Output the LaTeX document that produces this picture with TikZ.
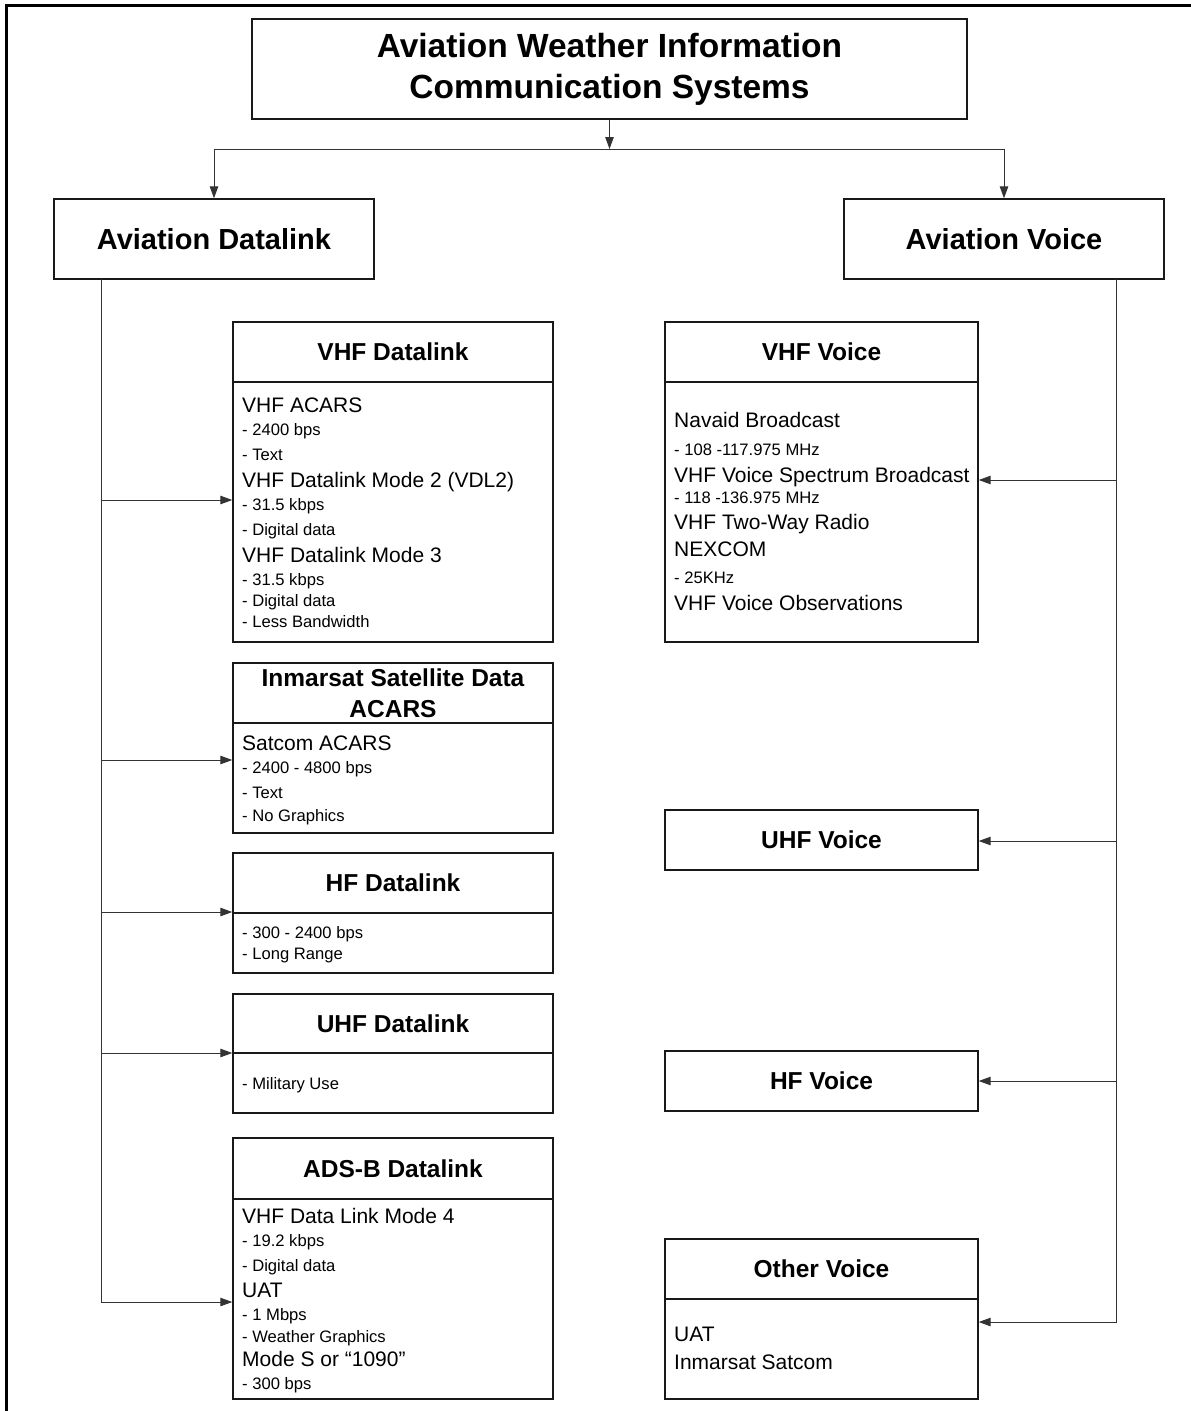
\documentclass[tikz,border=0pt]{standalone}
\usepackage{fontspec}
\setmainfont{Liberation Sans}
\usetikzlibrary{arrows.meta}
\newcommand\bigf{\fontsize{21}{25}\selectfont}
\newcommand\smf{\fontsize{16.6}{20}\selectfont}
\begin{document}
\begin{tikzpicture}[x=1pt,y=-1pt,
  box/.style={draw=black!90, line width=1.4pt, inner sep=0pt, align=center},
  hdr/.style={font=\fontsize{24.5}{31}\selectfont\bfseries},
  conn/.style={draw=black!80, line width=1pt},
  arr/.style={conn, -{Triangle[length=12pt,width=8.5pt]}},
  txt/.style={anchor=base west, inner sep=0pt}]
\useasboundingbox (0,0) rectangle (1191,1411);
% outer frame
\draw[line width=3pt] (6.5,1411) -- (6.5,5.5) -- (1191,5.5);

% top level
\node[box, minimum width=715pt, minimum height=100pt, font=\fontsize{33.5}{41}\selectfont\bfseries] (title) at (609.5,69) {Aviation Weather Information\\Communication Systems};
\node[box, minimum width=320pt, minimum height=80pt, font=\fontsize{29}{34}\selectfont\bfseries] (dlk) at (214,239) {Aviation Datalink};
\node[box, minimum width=320pt, minimum height=80pt, font=\fontsize{29}{34}\selectfont\bfseries] (voice) at (1004,239) {Aviation Voice};

% datalink boxes
\node[box, hdr, minimum width=320pt, minimum height=60pt] (vdH) at (393,352) {VHF Datalink};
\node[box, minimum width=320pt, minimum height=260pt] (vdB) at (393,512) {};
\node[box, hdr, minimum width=320pt, minimum height=60pt] (isH) at (393,693) {Inmarsat Satellite Data\\ACARS};
\node[box, minimum width=320pt, minimum height=110pt] (isB) at (393,778) {};
\node[box, hdr, minimum width=320pt, minimum height=60pt] (hfH) at (393,883) {HF Datalink};
\node[box, minimum width=320pt, minimum height=60pt] (hfB) at (393,943) {};
\node[box, hdr, minimum width=320pt, minimum height=59pt] (uhH) at (393,1023.5) {UHF Datalink};
\node[box, minimum width=320pt, minimum height=60pt] (uhB) at (393,1083) {};
\node[box, hdr, minimum width=320pt, minimum height=61pt] (adH) at (393,1168.5) {ADS-B Datalink};
\node[box, minimum width=320pt, minimum height=200pt] (adB) at (393,1299) {};

% voice boxes
\node[box, hdr, minimum width=313pt, minimum height=60pt] (vvH) at (821.5,352) {VHF Voice};
\node[box, minimum width=313pt, minimum height=260pt] (vvB) at (821.5,512) {};
\node[box, hdr, minimum width=313pt, minimum height=60pt] (uv) at (821.5,840) {UHF Voice};
\node[box, hdr, minimum width=313pt, minimum height=60pt] (hv) at (821.5,1081) {HF Voice};
\node[box, hdr, minimum width=313pt, minimum height=60pt] (ovH) at (821.5,1269) {Other Voice};
\node[box, minimum width=313pt, minimum height=100pt] (ovB) at (821.5,1349) {};

% body texts
\foreach \yy/\ff/\tx [count=\i] in {412/\bigf/VHF ACARS, 435/\smf/- 2400 bps, 460/\smf/- Text, 487/\bigf/VHF Datalink Mode 2 (VDL2), 510/\smf/- 31.5 kbps, 535/\smf/- Digital data, 562/\bigf/VHF Datalink Mode 3, 585/\smf/- 31.5 kbps, 606/\smf/- Digital data, 627/\smf/- Less Bandwidth}
  {\node[txt] (vdt\i) at (242,\yy) {\ff \tx};}
\foreach \yy/\ff/\tx [count=\i] in {750/\bigf/Satcom ACARS, 773/\smf/- 2400 - 4800 bps, 798/\smf/- Text, 821/\smf/- No Graphics}
  {\node[txt] (ist\i) at (242,\yy) {\ff \tx};}
\foreach \yy/\ff/\tx [count=\i] in {938/\smf/- 300 - 2400 bps, 959/\smf/- Long Range}
  {\node[txt] (hft\i) at (242,\yy) {\ff \tx};}
\node[txt] (uht1) at (242,1089) {\smf - Military Use};
\foreach \yy/\ff/\tx [count=\i] in {1223/\bigf/VHF Data Link Mode 4, 1246/\smf/- 19.2 kbps, 1271/\smf/- Digital data, 1297/\bigf/UAT, 1320/\smf/- 1 Mbps, 1342/\smf/- Weather Graphics, 1366/\bigf/Mode S or “1090”, 1389/\smf/- 300 bps}
  {\node[txt] (adt\i) at (242,\yy) {\ff \tx};}
\foreach \yy/\ff/\tx [count=\i] in {427/\bigf/Navaid Broadcast, 455/\smf/- 108 -117.975 MHz, 482/\bigf/VHF Voice Spectrum Broadcast, 503/\smf/- 118 -136.975 MHz, 529/\bigf/VHF Two-Way Radio, 556/\bigf/NEXCOM, 583/\smf/- 25KHz, 610/\bigf/VHF Voice Observations}
  {\node[txt] (vvt\i) at (674,\yy) {\ff \tx};}
\node[txt] (ovt1) at (674,1341) {\bigf UAT};
\node[txt] (ovt2) at (674,1369) {\bigf Inmarsat Satcom};

% connectors: top
\coordinate (tj) at (609.5,149);
\draw[arr] (title.south) -- (tj);
\draw[arr] (tj) -| (dlk.north);
\draw[arr] (tj) -| (voice.north);

% left trunk
\coordinate (lt) at (101.5,279);
\coordinate (l5) at (101.5,1302);
\draw[arr] (lt) -- (l5) -- (l5 -| adB.west);
\foreach \yy/\tg [count=\i] in {500/vdB, 760/isB, 912/hfB, 1053/uhB}
  {\coordinate (la\i) at (101.5,\yy); \draw[arr] (la\i) -- (la\i -| \tg.west);}

% right trunk
\coordinate (rt) at (1116,279);
\coordinate (r4) at (1116,1322);
\draw[arr] (rt) -- (r4) -- (r4 -| ovB.east);
\foreach \yy/\tg [count=\i] in {480/vvB, 841/uv, 1081/hv}
  {\coordinate (ra\i) at (1116,\yy); \draw[arr] (ra\i) -- (ra\i -| \tg.east);}
\end{tikzpicture}
\end{document}
